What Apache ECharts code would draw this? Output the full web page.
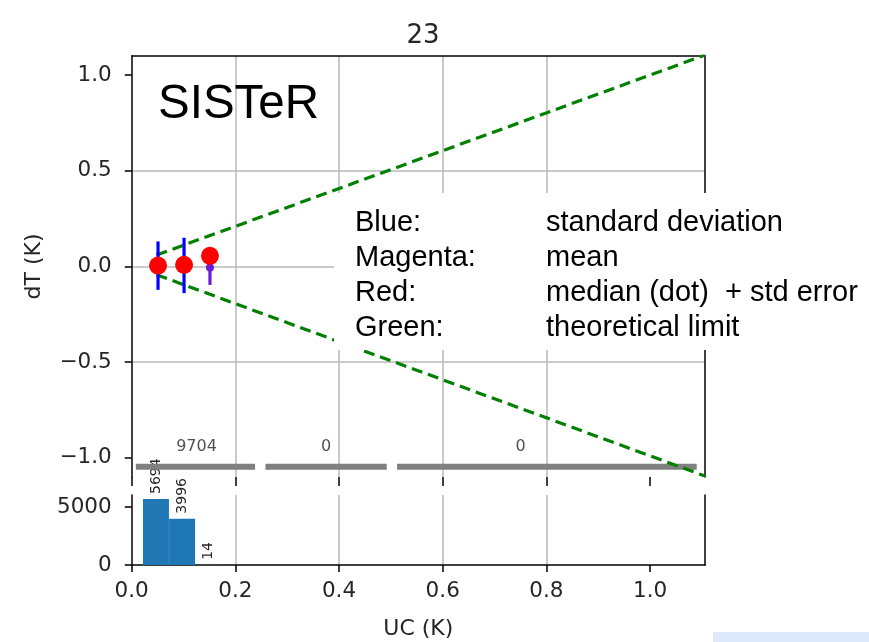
<!DOCTYPE html>
<html>
<head>
<meta charset="utf-8">
<script src="https://cdn.jsdelivr.net/npm/echarts@6/dist/echarts.min.js"></script>
<style>html,body{margin:0;padding:0;background:#fff;}#chart{width:869px;height:642px;}</style>
</head>
<body>
<div id="chart"></div>
<script>
// ---- data ----
const titleText = '23';
const ucX = [0.0508, 0.101, 0.151];            // UC (K) positions of the points
const medianY = [0.005, 0.009, 0.056];         // red dots (median)
const meanY = [0.002, 0.003, -0.005];          // magenta dots (mean)
const stdLow = [-0.122, -0.139, -0.096];       // error bar lower ends
const stdHigh = [0.131, 0.150, 0.080];         // error bar upper ends
const limitX = [0.048, 1.106];                 // theoretical limit lines
const limitUpperY = [0.06, 1.105];
const limitLowerY = [-0.043, -1.095];
const binStart = [0.008, 0.258, 0.512];        // gray count bars
const binEnd = [0.238, 0.492, 1.09];
const binLabelX = [0.125, 0.375, 0.75];
const binCounts = [9704, 0, 0];
const binBarY = -1.047;
const binLabelY = -0.945;
const histX = [0.0468, 0.0972, 0.1476];        // histogram bin centres
const histCounts = [5694, 3996, 14];
const mainYTicks = [-1.0, -0.5, 0.0, 0.5, 1.0];
const xTicks = [0.0, 0.2, 0.4, 0.6, 0.8, 1.0];
const histYTicks = [0, 5000];
const legendKeys = ['Blue:', 'Magenta:', 'Red:', 'Green:'];
const legendTexts = ['standard deviation', 'mean', 'median (dot)  + std error', 'theoretical limit'];

// ---- styles ----
const errColors = ['#0000ff', '#0000ff', '#6a1cd6'];
const tickFont = {fontFamily: 'DejaVu Sans', fontSize: 21.5, color: '#262626'};
const gridLine = {show: true, showMinLine: false, showMaxLine: false, lineStyle: {color: '#b8b8b8', width: 1.5}};
const spine = {show: true, onZero: false, lineStyle: {color: '#000', width: 1.5}};
const tickStyle = {color: '#000', width: 1.5};
const fmt = v => (v < 0 ? '\u2212' : '') + Math.abs(v).toFixed(1);

const grayData = [];
binStart.forEach((s, i) => {
  grayData.push([s, binBarY], [binEnd[i], binBarY]);
  if (i < binStart.length - 1) grayData.push([null, null]);
});

const chart = echarts.init(document.getElementById('chart'), null, {renderer: 'canvas'});
const option = {
  animation: false,
  title: {text: titleText, left: 418, top: 18, textAlign: 'center',
    textStyle: {fontFamily: 'DejaVu Sans', fontSize: 26, fontWeight: 'normal', color: '#262626'}},
  grid: [
    {left: 131.7, top: 56, width: 573.3, height: 421},
    {left: 131.7, top: 495, width: 573.3, height: 70}
  ],
  xAxis: [
    {type: 'value', gridIndex: 0, min: 0, max: 1.106, position: 'bottom',
     axisLine: {show: false, onZero: false},
     axisTick: {show: true, customValues: xTicks, length: 9, lineStyle: tickStyle},
     axisLabel: {show: false, customValues: xTicks}, splitLine: gridLine},
    {type: 'value', gridIndex: 0, position: 'top', min: 0, max: 1.106, axisLine: spine,
     axisTick: {show: false}, axisLabel: {show: false}, splitLine: {show: false}},
    {type: 'value', gridIndex: 1, min: 0, max: 1.106, position: 'bottom', axisLine: spine,
     axisTick: {show: true, customValues: xTicks, length: 7, lineStyle: tickStyle},
     axisLabel: Object.assign({customValues: xTicks, margin: 15, formatter: fmt}, tickFont),
     splitLine: gridLine,
     name: 'UC (K)', nameLocation: 'middle', nameGap: 53,
     nameTextStyle: {fontFamily: 'DejaVu Sans', fontSize: 22, color: '#262626'}}
  ],
  yAxis: [
    {type: 'value', gridIndex: 0, min: -1.1, max: 1.1, position: 'left', axisLine: spine,
     axisTick: {show: true, customValues: mainYTicks, length: 7, lineStyle: tickStyle},
     axisLabel: Object.assign({customValues: mainYTicks, margin: 20, formatter: fmt}, tickFont),
     splitLine: gridLine,
     name: 'dT (K)', nameLocation: 'middle', nameGap: 86,
     nameTextStyle: {fontFamily: 'DejaVu Sans', fontSize: 22, color: '#262626'}},
    {type: 'value', gridIndex: 0, position: 'right', min: -1.1, max: 1.1, axisLine: spine,
     axisTick: {show: false}, axisLabel: {show: false}, splitLine: {show: false}},
    {type: 'value', gridIndex: 1, min: 0, max: 6034, interval: 5000, position: 'left', axisLine: spine,
     axisTick: {show: true, customValues: histYTicks, length: 7, lineStyle: tickStyle},
     axisLabel: Object.assign({customValues: histYTicks, margin: 20, formatter: v => String(v)}, tickFont),
     splitLine: gridLine},
    {type: 'value', gridIndex: 1, position: 'right', min: 0, max: 6034, axisLine: spine,
     axisTick: {show: false}, axisLabel: {show: false}, splitLine: {show: false}}
  ],
  series: [
    {type: 'line', xAxisIndex: 0, yAxisIndex: 0, z: 3, symbol: 'none', clip: true,
     data: limitX.map((x, i) => [x, limitUpperY[i]]),
     lineStyle: {color: '#008000', width: 3.2, type: [11, 6]}},
    {type: 'line', xAxisIndex: 0, yAxisIndex: 0, z: 3, symbol: 'none', clip: true,
     data: limitX.map((x, i) => [x, limitLowerY[i]]),
     lineStyle: {color: '#008000', width: 3.2, type: [11, 6]}},
    {type: 'line', xAxisIndex: 0, yAxisIndex: 0, z: 2, symbol: 'none', connectNulls: false,
     data: grayData, lineStyle: {color: '#808080', width: 6, cap: 'butt'}},
    {type: 'scatter', xAxisIndex: 0, yAxisIndex: 0, z: 4, symbolSize: 0,
     data: binLabelX.map((x, i) => [x, binLabelY, binCounts[i]]),
     label: {show: true, position: 'inside', formatter: p => String(p.value[2]),
       fontFamily: 'DejaVu Sans', fontSize: 16, color: '#262626'}},
    {type: 'custom', xAxisIndex: 0, yAxisIndex: 0, z: 5,
     data: ucX.map((x, i) => [x, stdLow[i], stdHigh[i]]),
     encode: {x: 0, y: [1, 2]},
     renderItem: function (params, api) {
       const p1 = api.coord([api.value(0), api.value(1)]);
       const p2 = api.coord([api.value(0), api.value(2)]);
       return {type: 'line', shape: {x1: p1[0], y1: p1[1], x2: p2[0], y2: p2[1]},
         style: {stroke: errColors[params.dataIndex], lineWidth: 3.2}};
     }},
    {type: 'scatter', xAxisIndex: 0, yAxisIndex: 0, z: 6, symbolSize: 8,
     data: ucX.map((x, i) => [x, meanY[i]]), itemStyle: {color: '#6a1cd6', opacity: 1}},
    {type: 'scatter', xAxisIndex: 0, yAxisIndex: 0, z: 7, symbolSize: 18,
     data: ucX.map((x, i) => [x, medianY[i]]), itemStyle: {color: '#ff0000', opacity: 1}},
    {type: 'bar', xAxisIndex: 2, yAxisIndex: 2, barWidth: 26,
     data: histX.map((x, i) => [x, histCounts[i]]), itemStyle: {color: '#1f77b4'},
     label: {show: true, position: 'top', rotate: 90, align: 'left', verticalAlign: 'middle', distance: 5,
       formatter: p => String(p.value[1]), fontFamily: 'DejaVu Sans', fontSize: 14, color: '#262626'}}
  ],
  graphic: [
    {type: 'rect', z: 100, shape: {x: 334, y: 193, width: 535, height: 157}, style: {fill: '#fff'}},
    {type: 'rect', z: 100, shape: {x: 713, y: 632, width: 156, height: 10}, style: {fill: '#dde8fb'}},
    {type: 'text', z: 101, x: 158, y: 105,
     style: {text: 'SISTeR', fontFamily: 'Liberation Sans', fontSize: 47.5, fill: '#000', textVerticalAlign: 'middle'}}
  ].concat(legendKeys.map((k, i) => ({type: 'text', z: 101, x: 355, y: 223 + 35 * i,
     style: {text: k, fontFamily: 'Liberation Sans', fontSize: 29, fill: '#000', textVerticalAlign: 'middle'}})))
   .concat(legendTexts.map((t, i) => ({type: 'text', z: 101, x: 546, y: 223 + 35 * i,
     style: {text: t, fontFamily: 'Liberation Sans', fontSize: 29, fill: '#000', textVerticalAlign: 'middle'}})))
};
chart.setOption(option);
</script>
</body>
</html>
